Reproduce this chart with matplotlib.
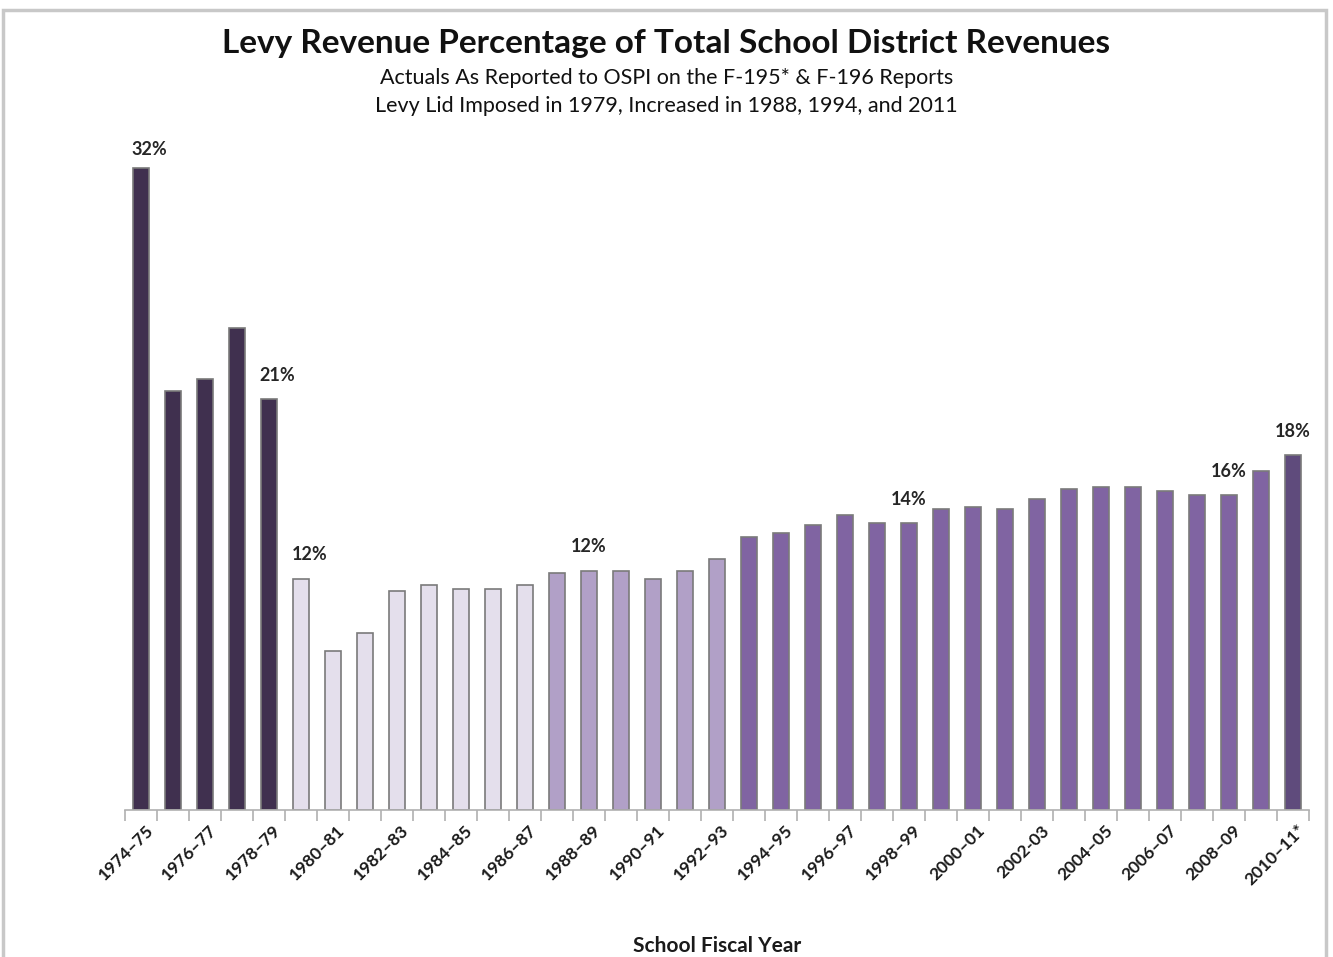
import matplotlib.pyplot as plt
from matplotlib.patches import Rectangle

plt.rcParams['font.family'] = ['Lato', 'DejaVu Sans']

categories = [
    "1974–75", "1975–76", "1976–77", "1977–78", "1978–79", "1979–80",
    "1980–81", "1981–82", "1982–83", "1983–84", "1984–85", "1985–86",
    "1986–87", "1987–88", "1988–89", "1989–90", "1990–91", "1991–92",
    "1992–93", "1993–94", "1994–95", "1995–96", "1996–97", "1997–98",
    "1998–99", "1999–00", "2000–01", "2001–02", "2002-03", "2003–04",
    "2004–05", "2005–06", "2006–07", "2007–08", "2008–09", "2009–10",
    "2010–11*",
]
levy_pct = [
    32.2, 21.0, 21.6, 24.2, 20.6, 11.6, 8.0, 8.9, 11.0, 11.3, 11.1, 11.1,
    11.3, 11.9, 12.0, 12.0, 11.6, 12.0, 12.6, 13.7, 13.9, 14.3, 14.8, 14.4,
    14.4, 15.1, 15.2, 15.1, 15.6, 16.1, 16.2, 16.2, 16.0, 15.8, 15.8, 17.0,
    17.8,
]
# bars that get a value label
labeled = ["1974–75", "1978–79", "1979–80", "1988–89", "1998–99", "2008–09", "2010–11*"]


def bar_color(cat):
    start = int(cat[:4])
    if start < 1979:
        return "#40304f"
    if start < 1987:
        return "#e4dfec"
    if start < 1993:
        return "#b1a0c7"
    if start < 2010:
        return "#8064a2"
    return "#5f4b7c"


fig = plt.figure(figsize=(13.33, 9.57), dpi=100)
ax = fig.add_axes([0.0938, 0.1536, 0.8882, 0.7083])

x = list(range(len(categories)))
ax.bar(x, levy_pct, width=0.5, color=[bar_color(c) for c in categories],
       edgecolor="#7a7a7a", linewidth=1.2)

for i, (cat, v) in enumerate(zip(categories, levy_pct)):
    if cat in labeled:
        dx = 6 if i < 6 else 0
        dy = 7 if i == 0 else 11
        ax.annotate(f"{v:.0f}%", (i, v), xytext=(dx, dy), textcoords="offset points",
                    ha="center", va="bottom", fontsize=13, fontweight="bold",
                    color="#262626")

ax.set_xlim(-0.5, len(categories) - 0.5)
ax.set_ylim(0, 34)

# category boundary ticks, labels on every other bar
ax.set_xticks([i - 0.5 for i in range(len(categories) + 1)])
ax.set_xticklabels([])
ax.tick_params(axis="x", length=8, width=1.2, color="#b0b0b0")
for i in range(0, len(categories), 2):
    ax.text(i + 0.3, -0.9, categories[i], rotation=45, rotation_mode="anchor",
            ha="right", va="center", fontsize=12.5, fontweight="bold", color="#1a1a1a")

ax.set_yticks([])
for side in ["left", "right", "top"]:
    ax.spines[side].set_visible(False)
ax.spines["bottom"].set_color("#b0b0b0")
ax.spines["bottom"].set_linewidth(1.2)

ax.set_xlabel("School Fiscal Year", fontsize=15, fontweight="bold", color="#1a1a1a",
              labelpad=79)

fig.text(0.5, 0.955, "Levy Revenue Percentage of Total School District Revenues",
         ha="center", va="center", fontsize=24, fontweight="bold", color="#111111")
fig.text(0.5, 0.919, "Actuals As Reported to OSPI on the F-195* & F-196 Reports",
         ha="center", va="center", fontsize=15.5, color="#111111")
fig.text(0.5, 0.889, "Levy Lid Imposed in 1979, Increased in 1988, 1994, and 2011",
         ha="center", va="center", fontsize=15.5, color="#111111")

# light frame round the chart area
fig.patches.append(Rectangle((3 / 1333, -0.01), 1323 / 1333, 0.005 + 952 / 957,
                             transform=fig.transFigure, fill=False,
                             edgecolor="#c8c8c8", linewidth=2.5))

plt.savefig("out.png", dpi=100)
